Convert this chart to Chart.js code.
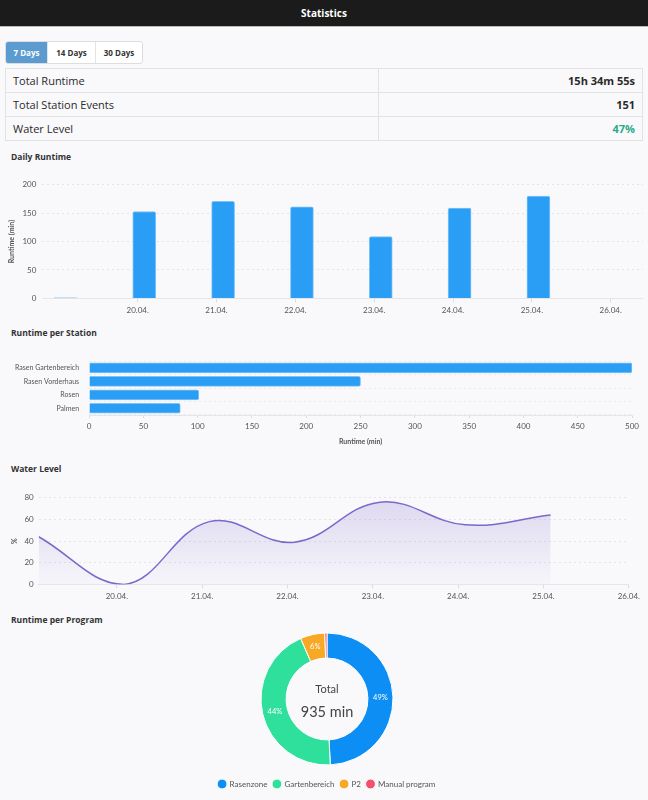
<!DOCTYPE html>
<html>
<head>
<meta charset="utf-8">
<script src="https://cdn.jsdelivr.net/npm/chart.js@4"></script>
<style>
  body { margin: 0; background: #f9f8fb; font-family: "Open Sans", sans-serif; color: #333; width: 648px; height: 800px; overflow: hidden; position: relative; }
  .header { height: 26px; background: #1b1b1b; border-bottom: 1px solid #bbb; color: #fff; font-weight: bold; font-size: 10px; text-align: center; line-height: 26px; }
  .tabs { position: absolute; left: 5px; top: 41px; display: flex; border: 1px solid #ddd; border-radius: 3px; overflow: hidden; background: #fff; }
  .tabs div { height: 21px; line-height: 21px; font-size: 8px; font-weight: bold; text-align: center; border-left: 1px solid #e3e3e3; color: #333; }
  .tabs div.active { background: #5b9bcf; color: #fff; border-left: none; }
  table { position: absolute; left: 5px; top: 68px; width: 638px; border-collapse: collapse; font-size: 11px; }
  td { border: 1px solid #e2e2e2; height: 23px; padding: 0 7px; color: #2a2a2a; }
  td.v { text-align: right; font-weight: bold; }
  .h { position: absolute; left: 11px; font-size: 8.5px; font-weight: bold; color: #333; }
  .box { position: absolute; }
</style>
</head>
<body>
<div class="header">Statistics</div>
<div class="tabs">
  <div class="active" style="width:41px">7 Days</div>
  <div style="width:47px">14 Days</div>
  <div style="width:46px">30 Days</div>
</div>
<table>
  <tr><td style="width:358px">Total Runtime</td><td class="v" id="totRun"></td></tr>
  <tr><td>Total Station Events</td><td class="v" id="events"></td></tr>
  <tr><td>Water Level</td><td class="v" id="level" style="color:#2bab88"></td></tr>
</table>

<div class="h" style="top:151px">Daily Runtime</div>
<div class="box" style="left:8px;top:174px;width:635px;height:144px"><canvas id="daily"></canvas></div>

<div class="h" style="top:327px">Runtime per Station</div>
<div class="box" style="left:5px;top:347px;width:638px;height:101px"><canvas id="station"></canvas></div>

<div class="h" style="top:463px">Water Level</div>
<div class="box" style="left:11px;top:488px;width:632px;height:116px"><canvas id="water"></canvas></div>

<div class="h" style="top:614px">Runtime per Program</div>
<div class="box" style="left:8px;top:624px;width:638px;height:174px"><canvas id="program"></canvas></div>

<script>
// summary
const totalRuntime = '15h 34m 55s';
const stationEvents = 151;
const waterLevelNow = 47;

// readings are logged at about 02:00 each day
const sampleHour = 2;
const days = [19, 20, 21, 22, 23, 24, 25];
const tickDays = [20, 21, 22, 23, 24, 25, 26];

const dailyRuntime = [1, 153, 171, 161, 109, 159, 180];

const stations = ['Rasen Gartenbereich', 'Rasen Vorderhaus', 'Rosen', 'Palmen'];
const stationRuntime = [500, 250, 101, 84];

const waterLevel = [44, 0, 58, 39, 76, 55, 64];

const programs = ['Rasenzone', 'Gartenbereich', 'P2', 'Manual program'];
const programRuntime = [460, 414, 56, 5];
const programColors = ['#0d8ef5', '#2fe09c', '#f7a824', '#f4506c'];

document.getElementById('totRun').textContent = totalRuntime;
document.getElementById('events').textContent = stationEvents;
document.getElementById('level').textContent = waterLevelNow + '%';

const fontFam = 'Lato, sans-serif';
Chart.defaults.font.family = fontFam;
Chart.defaults.font.size = 8;
Chart.defaults.color = '#555';

const dayLabel = v => String(v).padStart(2, '0') + '.04.';
const toX = d => d + sampleHour / 24;

const gridY = { color: '#e4e4e4', drawTicks: false };
const noLegend = { legend: { display: false }, tooltip: { enabled: false } };

new Chart(document.getElementById('daily'), {
  type: 'bar',
  data: {
    datasets: [{
      data: days.map((d, i) => ({ x: toX(d), y: dailyRuntime[i] })),
      backgroundColor: '#2a9df4',
      borderColor: '#7cc3f8',
      borderWidth: 1,
      borderRadius: 2,
      barThickness: 23
    }]
  },
  options: {
    animation: false,
    maintainAspectRatio: false,
    plugins: noLegend,
    scales: {
      x: {
        type: 'linear', min: 18.79, max: 26.41, offset: false,
        afterBuildTicks: a => { a.ticks = tickDays.map(v => ({ value: v })); },
        ticks: { callback: dayLabel, maxRotation: 0, padding: 3 },
        grid: { drawOnChartArea: false, tickLength: 4, color: '#ddd', offset: false },
        border: { color: '#e6e6e6' }
      },
      y: {
        min: 0, max: 200,
        ticks: { stepSize: 50, padding: 6 },
        grid: gridY,
        border: { display: false, dash: [2, 3] },
        title: { display: true, text: 'Runtime (min)', font: { size: 7, weight: 'bold' }, padding: 0 }
      }
    }
  }
});

new Chart(document.getElementById('station'), {
  type: 'bar',
  data: {
    labels: stations,
    datasets: [{
      data: stationRuntime,
      backgroundColor: '#2a9df4',
      borderColor: '#7cc3f8',
      borderWidth: 1,
      borderRadius: 2,
      barThickness: 10
    }]
  },
  options: {
    animation: false,
    indexAxis: 'y',
    maintainAspectRatio: false,
    plugins: noLegend,
    scales: {
      x: {
        min: 0, max: 500,
        ticks: { stepSize: 50, padding: 4 },
        grid: { drawOnChartArea: false, tickLength: 3, color: '#ddd' },
        border: { color: '#e6e6e6' },
        title: { display: true, text: 'Runtime (min)', font: { size: 7, weight: 'bold' }, padding: 2 }
      },
      y: {
        ticks: { padding: 10, font: { size: 7 } },
        grid: { color: '#eaeaea', drawTicks: false },
        border: { display: false, dash: [2, 3] }
      }
    }
  }
});

new Chart(document.getElementById('water'), {
  type: 'line',
  data: {
    datasets: [{
      data: days.map((d, i) => ({ x: toX(d), y: waterLevel[i] })),
      borderColor: '#7b68cc',
      borderWidth: 1.5,
      pointRadius: 0,
      tension: 0.4,
      fill: 'origin',
      backgroundColor: ctx => {
        const a = ctx.chart.chartArea;
        if (!a) return 'rgba(123,104,204,0.1)';
        const g = ctx.chart.ctx.createLinearGradient(0, a.top, 0, a.bottom);
        g.addColorStop(0, 'rgba(123,104,204,0.22)');
        g.addColorStop(1, 'rgba(123,104,204,0.02)');
        return g;
      }
    }]
  },
  options: {
    animation: false,
    maintainAspectRatio: false,
    plugins: noLegend,
    scales: {
      x: {
        type: 'linear', min: toX(days[0]), max: 26,
        afterBuildTicks: a => { a.ticks = tickDays.map(v => ({ value: v })); },
        ticks: { callback: dayLabel, maxRotation: 0, padding: 3 },
        grid: { drawOnChartArea: false, tickLength: 4, color: '#ddd' },
        border: { color: '#e6e6e6' }
      },
      y: {
        min: 0, max: 80,
        ticks: { stepSize: 20, padding: 5 },
        grid: gridY,
        border: { display: false, dash: [2, 3] },
        title: { display: true, text: '%', font: { size: 7, weight: 'bold' }, padding: 0 }
      }
    }
  }
});

const programTotal = programRuntime.reduce((a, b) => a + b, 0);

const donutText = {
  id: 'donutText',
  afterDatasetsDraw(chart) {
    const ctx = chart.ctx;
    const meta = chart.getDatasetMeta(0);
    ctx.save();
    ctx.textAlign = 'center';
    ctx.textBaseline = 'middle';
    ctx.fillStyle = '#fff';
    ctx.font = '7.5px ' + fontFam;
    meta.data.forEach((arc, i) => {
      const pct = programRuntime[i] / programTotal * 100;
      if (pct < 3) return;
      const p = arc.tooltipPosition();
      ctx.fillText(Math.round(pct) + '%', p.x, p.y);
    });
    const c = meta.data[0];
    ctx.fillStyle = '#444';
    ctx.font = '11px ' + fontFam;
    ctx.fillText('Total', c.x, c.y - 10);
    ctx.font = '14.5px ' + fontFam;
    ctx.fillText(programTotal + ' min', c.x, c.y + 13);
    ctx.restore();
  }
};

new Chart(document.getElementById('program'), {
  type: 'doughnut',
  data: {
    labels: programs,
    datasets: [{
      data: programRuntime,
      backgroundColor: programColors,
      borderColor: '#fff',
      borderWidth: 1,
      radius: 66
    }]
  },
  options: {
    animation: false,
    maintainAspectRatio: false,
    cutout: '62%',
    plugins: {
      tooltip: { enabled: false },
      legend: {
        position: 'bottom',
        labels: { usePointStyle: true, pointStyle: 'circle', boxWidth: 7, boxHeight: 7, padding: 6, font: { size: 8 } }
      }
    }
  },
  plugins: [donutText]
});
</script>
</body>
</html>
